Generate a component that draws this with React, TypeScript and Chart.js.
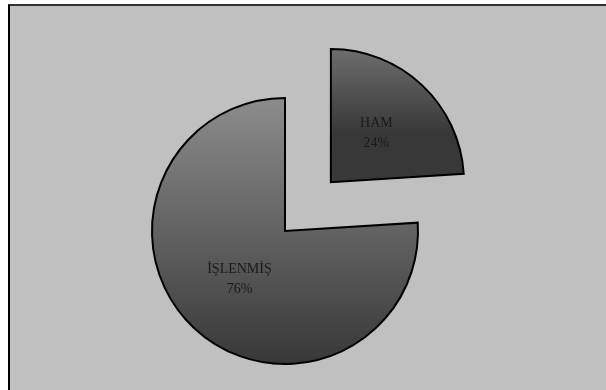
import React, { useEffect, useRef } from "react";
import { Chart, registerables } from "chart.js";

Chart.register(...registerables);

const categories: string[] = ["HAM", "İŞLENMİŞ"];
const values: number[] = [24, 76];
const percentLabels: string[] = ["24%", "76%"];
const explode: number[] = [268, 0];

const RADIUS = 133;
const SHIFT_DIV = 4; // ArcElement translates by offset / 4

function sliceGeometry(chart: any, i: number) {
  const area = chart.chartArea;
  const cx0 = (area.left + area.right) / 2;
  const cy0 = (area.top + area.bottom) / 2;
  const total = values.reduce((a, b) => a + b, 0);
  let start = -Math.PI / 2;
  for (let k = 0; k < i; k++) start += (values[k] / total) * 2 * Math.PI;
  const end = start + (values[i] / total) * 2 * Math.PI;
  const half = (start + end) / 2;
  const shift = explode[i] / SHIFT_DIV;
  return {
    cx: cx0 + Math.cos(half) * shift,
    cy: cy0 + Math.sin(half) * shift,
    start,
    end,
    half,
  };
}

function sliceGradient(c: any) {
  const chart = c.chart;
  if (!chart.chartArea) return "#666";
  const g = sliceGeometry(chart, c.dataIndex);
  const ys = [g.cy, g.cy + Math.sin(g.start) * RADIUS, g.cy + Math.sin(g.end) * RADIUS];
  for (const a of [-Math.PI / 2, Math.PI / 2, (3 * Math.PI) / 2]) {
    if (a >= g.start - 1e-6 && a <= g.end + 1e-6) ys.push(g.cy + Math.sin(a) * RADIUS);
  }
  const top = Math.min(...ys);
  const bottom = Math.max(...ys);
  const grad = chart.ctx.createLinearGradient(0, top, 0, bottom);
  grad.addColorStop(0, "#8c8c8c");
  grad.addColorStop(1, "#383838");
  return grad;
}

const labelPlugin = {
  id: "sliceLabels",
  afterDatasetsDraw(chart: any) {
    const ctx = chart.ctx;
    ctx.save();
    ctx.font = '14px "Liberation Serif", "Times New Roman", serif';
    ctx.fillStyle = "#1a1a1a";
    ctx.textAlign = "center";
    ctx.textBaseline = "middle";
    categories.forEach((name, i) => {
      const g = sliceGeometry(chart, i);
      const x = g.cx + Math.cos(g.half) * (RADIUS / 2);
      const y = g.cy + Math.sin(g.half) * (RADIUS / 2);
      ctx.fillText(name, x, y - 10);
      ctx.fillText(percentLabels[i], x, y + 10);
    });
    ctx.restore();
  },
};

export default function App() {
  const ref = useRef<HTMLCanvasElement>(null);
  useEffect(() => {
    if (!ref.current) return;
    const chart = new Chart(ref.current, {
      type: "pie",
      data: {
        labels: categories,
        datasets: [
          {
            data: values,
            backgroundColor: (c: any) => sliceGradient(c),
            borderColor: "#000000",
            borderWidth: 2,
            borderJoinStyle: "miter",
            offset: explode,
          } as any,
        ],
      },
      options: {
        responsive: false,
        animation: false,
        devicePixelRatio: 1,
        radius: RADIUS,
        layout: { padding: { left: 0, right: 36, top: 72, bottom: 0 } },
        plugins: {
          legend: { display: false },
          tooltip: { enabled: false },
          title: { display: false },
        },
      } as any,
      plugins: [labelPlugin],
    });
    return () => chart.destroy();
  }, []);

  return (
    <div style={{ position: "fixed", left: 0, top: 0, width: 606, height: 390, background: "#ffffff", overflow: "hidden" }}>
      <div
        style={{
          position: "absolute",
          left: 8,
          top: 4,
          width: 598,
          height: 386,
          boxSizing: "border-box",
          background: "#c0c0c0",
          borderLeft: "2px solid #000000",
          borderTop: "2px solid #333333",
        }}
      />
      <canvas ref={ref} width={606} height={390} style={{ position: "absolute", left: 0, top: 0, width: 606, height: 390 }} />
    </div>
  );
}
